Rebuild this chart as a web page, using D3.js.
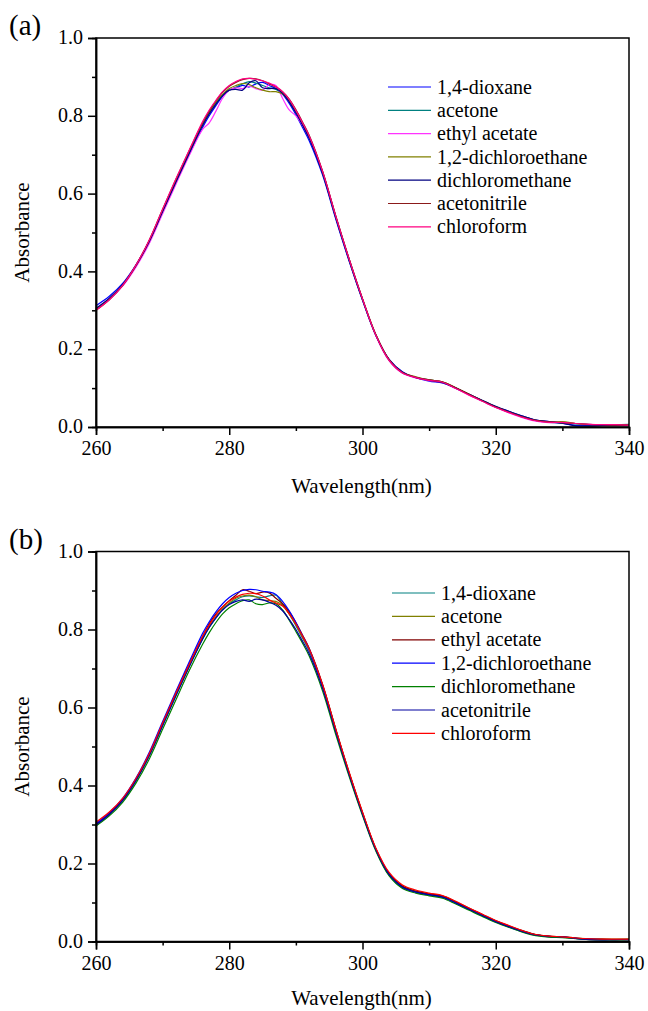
<!DOCTYPE html>
<html>
<head>
<meta charset="utf-8">
<script src="https://cdn.jsdelivr.net/npm/d3@7"></script>
<style>
html, body { margin: 0; padding: 0; background: #fff; }
svg { display: block; }
svg text { font-family: "Liberation Serif", "Tinos", "Times New Roman", "DejaVu Serif", serif !important; fill: #000; }
</style>
</head>
<body>
<svg id="chart" width="648" height="1011"></svg>
<script>
// ---------------- DATA ----------------
const wavelengths = [260,262,264,266,268,270,272,274,
  276,277,278,279,280,281,282,283,284,285,286,287,288,289,290,291,292,
  294,296,298,300,302,304,306,308,310,312,314,316,318,320,322,324,326,328,330,332,334,336,338,340];

const solventsA = ["1,4-dioxane","acetone","ethyl acetate","1,2-dichloroethane","dichloromethane","acetonitrile","chloroform"];
const colorsA = ["#0000ff","#008080","#ff33ff","#808000","#000080","#8b1a1a","#ff0080"];

const dioxaneA = [.312,.336,.369,.417,.478,.553,.629,.702, .770,.800,.826,.850,.866,.872,.878,.874,.882,.886,.878,.870,.855,.832,.803,.770,.736, .648,.534,.426,.326,.236,.174,.142,.127,.118,.113,.100,.084,.068,.052,.040,.028,.018,.014,.009,.004,.003,.004,.005,.006];
const acetoneA = [.303,.329,.364,.414,.477,.555,.632,.706, .778,.808,.832,.853,.866,.874,.882,.888,.884,.878,.872,.868,.858,.838,.810,.778,.744, .654,.539,.430,.328,.236,.171,.139,.128,.121,.115,.101,.083,.067,.051,.038,.026,.017,.012,.010,.008,.006,.005,.006,.007];
const ethylAcetateA = [.302,.328,.362,.411,.472,.548,.624,.698, .765,.782,.812,.845,.866,.872,.870,.876,.870,.866,.880,.878,.845,.815,.800,.776,.745, .657,.542,.432,.329,.235,.170,.138,.126,.119,.114,.099,.082,.066,.050,.036,.024,.015,.011,.012,.009,.007,.005,.005,.004];
const dceA = [.302,.329,.364,.415,.479,.557,.634,.709, .780,.810,.835,.855,.870,.878,.883,.880,.872,.866,.862,.862,.856,.838,.812,.780,.746, .656,.541,.431,.329,.237,.172,.140,.129,.121,.116,.101,.084,.068,.052,.039,.027,.017,.013,.014,.009,.006,.006,.006,.006];
const dcmA = [.305,.331,.366,.415,.477,.554,.630,.704, .775,.805,.830,.852,.866,.868,.866,.885,.890,.872,.870,.870,.858,.836,.808,.776,.742, .652,.537,.428,.327,.236,.173,.141,.127,.120,.114,.100,.084,.068,.053,.040,.028,.018,.014,.010,.003,.003,.004,.004,.005];
const acetonitrileA = [.300,.327,.364,.416,.481,.560,.637,.711, .782,.812,.838,.860,.876,.886,.893,.896,.895,.890,.882,.874,.862,.843,.816,.784,.750, .658,.542,.432,.330,.238,.173,.140,.128,.121,.116,.101,.084,.067,.051,.038,.026,.017,.013,.011,.009,.007,.006,.005,.005];
const chloroformA = [.300,.327,.364,.416,.481,.560,.638,.712, .785,.815,.840,.862,.878,.888,.895,.896,.894,.890,.884,.875,.862,.842,.814,.782,.748, .657,.541,.431,.329,.236,.171,.139,.127,.120,.115,.099,.082,.066,.050,.037,.025,.016,.012,.012,.009,.007,.006,.006,.005];

const solventsB = ["1,4-dioxane","acetone","ethyl acetate","1,2-dichloroethane","dichloromethane","acetonitrile","chloroform"];
const colorsB = ["#008080","#808000","#800000","#0000ff","#008000","#0000a0","#ff0000"];

const dioxaneB = [.298,.325,.361,.412,.476,.553,.630,.705, .775,.805,.830,.852,.866,.876,.884,.886,.884,.882,.886,.888,.865,.840,.810,.778,.745, .654,.538,.428,.327,.236,.172,.140,.127,.120,.114,.099,.083,.067,.051,.038,.026,.017,.013,.012,.008,.006,.005,.005,.006];
const acetoneB = [.300,.327,.363,.414,.478,.556,.633,.707, .778,.808,.832,.853,.868,.880,.886,.888,.884,.876,.874,.872,.862,.840,.812,.780,.748, .658,.543,.432,.330,.238,.174,.142,.129,.122,.116,.101,.085,.069,.053,.039,.027,.018,.013,.011,.009,.007,.006,.006,.006];
const ethylAcetateB = [.301,.328,.364,.415,.480,.559,.637,.712, .782,.815,.840,.858,.874,.888,.902,.898,.892,.896,.894,.880,.866,.846,.818,.786,.752, .660,.544,.433,.331,.238,.174,.142,.129,.122,.117,.102,.085,.069,.053,.040,.028,.018,.014,.012,.009,.007,.006,.005,.005];
const dceB = [.302,.330,.367,.419,.485,.564,.642,.717, .790,.820,.845,.866,.882,.893,.900,.903,.902,.898,.896,.890,.872,.848,.818,.784,.750, .656,.540,.429,.327,.235,.170,.138,.126,.119,.113,.098,.082,.066,.050,.037,.025,.016,.012,.011,.008,.006,.005,.005,.005];
const dcmB = [.296,.322,.357,.406,.468,.544,.620,.695, .762,.792,.818,.840,.856,.866,.874,.876,.866,.864,.868,.866,.850,.824,.795,.765,.732, .643,.530,.423,.323,.232,.168,.136,.124,.117,.111,.096,.080,.064,.049,.036,.024,.015,.011,.010,.007,.005,.004,.004,.005];
const acetonitrileB = [.299,.326,.362,.413,.477,.554,.631,.705, .776,.806,.830,.850,.864,.872,.876,.872,.878,.876,.870,.862,.848,.826,.800,.770,.738, .650,.537,.428,.327,.236,.172,.140,.127,.120,.114,.099,.083,.067,.051,.038,.026,.017,.013,.012,.008,.005,.004,.005,.005];
const chloroformB = [.306,.332,.367,.418,.482,.560,.637,.711, .782,.812,.837,.858,.873,.883,.890,.893,.892,.886,.876,.868,.860,.840,.814,.783,.750, .659,.544,.434,.332,.240,.177,.145,.132,.124,.118,.103,.086,.070,.054,.041,.028,.018,.014,.012,.009,.007,.006,.006,.006];

const xTicksMajor = [260,280,300,320,340];
const xTicksMinor = [270,290,310,330];
const yTicksMajor = [0.0,0.2,0.4,0.6,0.8,1.0];
const yTicksMinor = [0.1,0.3,0.5,0.7,0.9];
const xTitle = "Wavelength(nm)";
const yTitle = "Absorbance";

const seriesA = [dioxaneA, acetoneA, ethylAcetateA, dceA, dcmA, acetonitrileA, chloroformA];
const seriesB = [dioxaneB, acetoneB, ethylAcetateB, dceB, dcmB, acetonitrileB, chloroformB];

// ---------------- DRAW ----------------
const FONT = '"Liberation Serif", "Tinos", "Times New Roman", "DejaVu Serif", serif';
const svg = d3.select("#chart");

function panel(cfg) {
  const {top, bottom, left, right, label, series, names, colors, legX, legY, legStep, titleOff} = cfg;
  const g = svg.append("g").attr("font-family", FONT);
  const x = d3.scaleLinear().domain([260, 340]).range([left, right]);
  const y = d3.scaleLinear().domain([0, 1]).range([bottom, top]);

  const line = d3.line()
    .x((d, i) => x(wavelengths[i]))
    .y(d => y(d))
    .curve(d3.curveCatmullRom.alpha(0.5));
  series.forEach((s, k) => {
    g.append("path").attr("d", line(s))
      .attr("fill", "none").attr("stroke", colors[k])
      .attr("stroke-width", 1.2);
  });

  g.append("rect").attr("x", left).attr("y", top)
    .attr("width", right - left).attr("height", bottom - top)
    .attr("fill", "none").attr("stroke", "#000").attr("stroke-width", 1.5);

  const xAxis = d3.axisBottom(x).tickValues(xTicksMajor).tickSize(8).tickPadding(6)
    .tickFormat(d3.format("d"));
  const xa = g.append("g").attr("transform", `translate(0,${bottom})`).call(xAxis);
  const xAxisMinor = d3.axisBottom(x).tickValues(xTicksMinor).tickSize(4).tickFormat("");
  const xm = g.append("g").attr("transform", `translate(0,${bottom})`).call(xAxisMinor);

  const yAxis = d3.axisLeft(y).tickValues(yTicksMajor).tickSize(8).tickPadding(5)
    .tickFormat(d3.format(".1f"));
  const ya = g.append("g").attr("transform", `translate(${left},0)`).call(yAxis);
  const yAxisMinor = d3.axisLeft(y).tickValues(yTicksMinor).tickSize(4).tickFormat("");
  const ym = g.append("g").attr("transform", `translate(${left},0)`).call(yAxisMinor);

  [xa, xm, ya, ym].forEach(a => {
    a.attr("font-family", FONT).attr("font-size", 20);
    a.select(".domain").attr("stroke", "#000").attr("stroke-width", 1.5);
    a.selectAll(".tick line").attr("stroke", "#000").attr("stroke-width", 1.5);
    a.selectAll("text").attr("fill", "#000");
  });
  ya.selectAll("text").attr("dy", "0.28em");

  g.append("text").attr("x", (left + right) / 2 - 1).attr("y", bottom + titleOff)
    .attr("text-anchor", "middle").attr("font-size", 21).text(xTitle);
  g.append("text").attr("transform", `translate(29,${(top + bottom) / 2}) rotate(-90)`)
    .attr("text-anchor", "middle").attr("font-size", 21).text(yTitle);

  g.append("text").attr("x", 9).attr("y", top - 3).attr("font-size", 29).text(label);

  names.forEach((n, k) => {
    const yy = legY + k * legStep;
    g.append("line").attr("x1", legX).attr("x2", legX + 43).attr("y1", yy).attr("y2", yy)
      .attr("stroke", colors[k]).attr("stroke-width", 1.2);
    g.append("text").attr("x", legX + 49).attr("y", yy).attr("dy", "0.33em")
      .attr("font-size", 20).text(n);
  });
}

panel({top: 38, bottom: 427, left: 96, right: 629, label: "(a)", titleOff: 66,
  series: seriesA, names: solventsA, colors: colorsA, legX: 388, legY: 87, legStep: 23.3});
panel({top: 551.5, bottom: 941.5, left: 96, right: 629, label: "(b)", titleOff: 63,
  series: seriesB, names: solventsB, colors: colorsB, legX: 392, legY: 593, legStep: 23.4});
</script>
</body>
</html>
